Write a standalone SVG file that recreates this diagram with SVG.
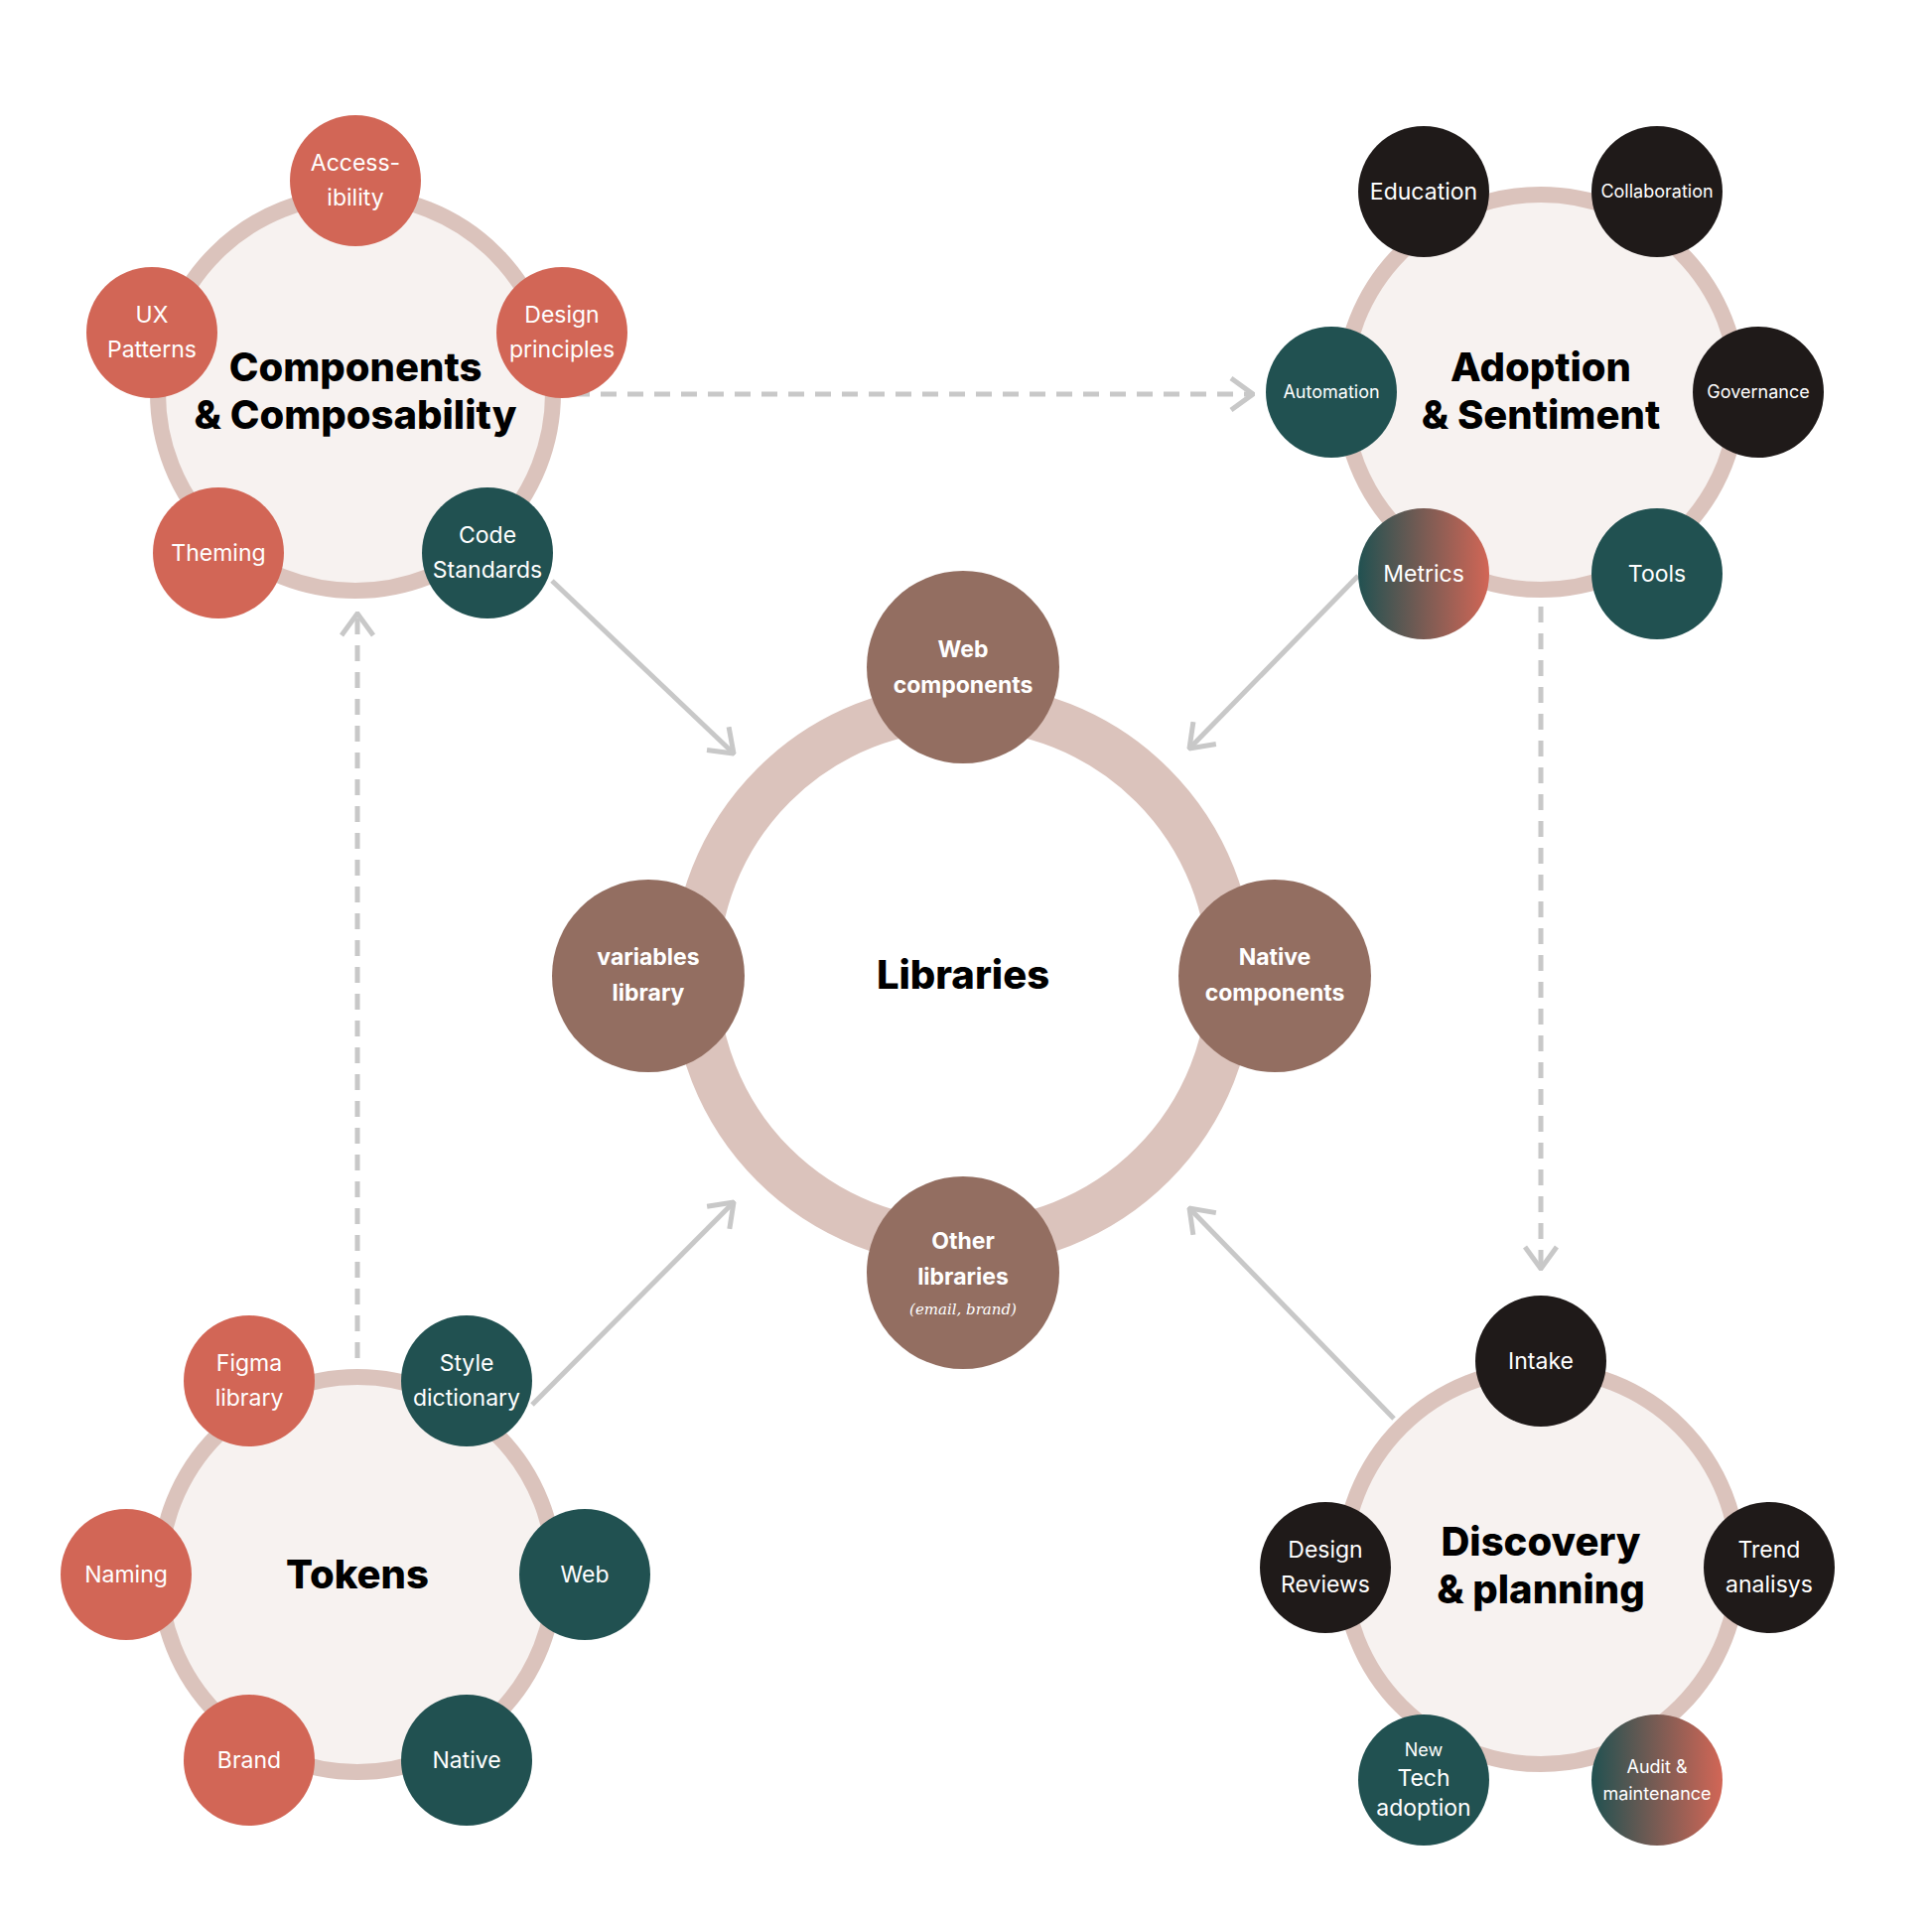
<svg xmlns="http://www.w3.org/2000/svg" width="1946" height="1932" viewBox="0 0 1946 1932">
<style>
.ring{fill:#f7f2f0;stroke:#dbc3bc;stroke-width:16}
.c{fill:#d26656}.t{fill:#215151}.d{fill:#1f1a19}.b{fill:#936e61}.g{fill:url(#gr)}
.s{font-family:Inter,"Liberation Sans",sans-serif;font-size:23px;fill:#fff;text-anchor:middle}
.xs{font-size:18px}
.lb{font-family:Inter,"Liberation Sans",sans-serif;font-size:23px;font-weight:700;fill:#fff;text-anchor:middle}
.h{font-family:Inter,"Liberation Sans",sans-serif;font-size:40px;font-weight:800;fill:#000;text-anchor:middle}
.dash{stroke:#c8c8c8;stroke-width:5;stroke-dasharray:16 11;fill:none}
.sol{stroke:#c8c8c8;stroke-width:5;fill:none}
</style>
<defs>
<linearGradient id="gr" x1="0" x2="1" y1="0" y2="0"><stop offset="0" stop-color="#215151"/><stop offset="1" stop-color="#d26656"/></linearGradient>
<marker id="ah" viewBox="0 0 20 20" refX="18" refY="10" markerWidth="20" markerHeight="20" markerUnits="userSpaceOnUse" orient="auto"><path d="M2 1 L18 10 L2 19" fill="none" stroke="#c8c8c8" stroke-width="4"/></marker>
<marker id="ah2" viewBox="0 0 36 36" refX="34" refY="18" markerWidth="36" markerHeight="36" markerUnits="userSpaceOnUse" orient="auto"><path d="M12 2 L34 18 L12 34" fill="none" stroke="#c8c8c8" stroke-width="5"/></marker>
</defs>
<rect width="1946" height="1932" fill="#fff"/>
<g id="connectors">
<path class="dash" d="M578 397 H1262" marker-end="url(#ah2)"/>
<path class="dash" d="M360 1368 V618" marker-end="url(#ah2)"/>
<path class="dash" d="M1552 611 V1278" marker-end="url(#ah2)"/>
<path class="sol" d="M556 585 L739 759" marker-end="url(#ah2)"/>
<path class="sol" d="M1368 580 L1198 754" marker-end="url(#ah2)"/>
<path class="sol" d="M536 1415 L739 1211" marker-end="url(#ah2)"/>
<path class="sol" d="M1404 1429 L1198 1217" marker-end="url(#ah2)"/>
</g>
<g id="libraries">
<circle cx="970" cy="982" r="270" fill="none" stroke="#dbc3bc" stroke-width="47"/>
<text class="h" x="970" y="996" font-size="41">Libraries</text>
<g id="web-components"><circle class="b" cx="970" cy="672" r="97"/><text class="lb" x="970" y="662">Web</text><text class="lb" x="970" y="698">components</text></g>
<g id="variables-library"><circle class="b" cx="653" cy="983" r="97"/><text class="lb" x="653" y="972">variables</text><text class="lb" x="653" y="1008">library</text></g>
<g id="native-components"><circle class="b" cx="1284" cy="983" r="97"/><text class="lb" x="1284" y="972">Native</text><text class="lb" x="1284" y="1008">components</text></g>
<g id="other-libraries"><circle class="b" cx="970" cy="1282" r="97"/><text class="lb" x="970" y="1258">Other</text><text class="lb" x="970" y="1294">libraries</text><text x="970" y="1324" text-anchor="middle" font-family="DejaVu Serif,serif" font-style="italic" font-size="15" fill="#fff">(email, brand)</text></g>
</g>
<g id="components">
<circle class="ring" cx="358" cy="396" r="199"/>
<text class="h" x="358" y="384">Components</text><text class="h" x="358" y="432">&amp; Composability</text>
<g id="accessibility"><circle class="c" cx="358" cy="182" r="66"/><text class="s" x="358" y="172">Access-</text><text class="s" x="358" y="207">ibility</text></g>
<g id="ux"><circle class="c" cx="153" cy="335" r="66"/><text class="s" x="153" y="325">UX</text><text class="s" x="153" y="360">Patterns</text></g>
<g id="design-principles"><circle class="c" cx="566" cy="335" r="66"/><text class="s" x="566" y="325">Design</text><text class="s" x="566" y="360">principles</text></g>
<g id="theming"><circle class="c" cx="220" cy="557" r="66"/><text class="s" x="220" y="565">Theming</text></g>
<g id="code-standards"><circle class="t" cx="491" cy="557" r="66"/><text class="s" x="491" y="547">Code</text><text class="s" x="491" y="582">Standards</text></g>
</g>
<g id="adoption">
<circle class="ring" cx="1552" cy="395" r="199"/>
<text class="h" x="1552" y="384">Adoption</text><text class="h" x="1552" y="432">&amp; Sentiment</text>
<g id="education"><circle class="d" cx="1434" cy="193" r="66"/><text class="s" x="1434" y="201">Education</text></g>
<g id="collaboration"><circle class="d" cx="1669" cy="193" r="66"/><text class="s xs" x="1669" y="199">Collaboration</text></g>
<g id="automation"><circle class="t" cx="1341" cy="395" r="66"/><text class="s xs" x="1341" y="401">Automation</text></g>
<g id="governance"><circle class="d" cx="1771" cy="395" r="66"/><text class="s xs" x="1771" y="401">Governance</text></g>
<g id="metrics"><circle class="g" cx="1434" cy="578" r="66"/><text class="s" x="1434" y="586">Metrics</text></g>
<g id="tools"><circle class="t" cx="1669" cy="578" r="66"/><text class="s" x="1669" y="586">Tools</text></g>
</g>
<g id="tokens">
<circle class="ring" cx="360" cy="1586" r="199"/>
<text class="h" x="360" y="1600">Tokens</text>
<g id="figma"><circle class="c" cx="251" cy="1391" r="66"/><text class="s" x="251" y="1381">Figma</text><text class="s" x="251" y="1416">library</text></g>
<g id="style-dictionary"><circle class="t" cx="470" cy="1391" r="66"/><text class="s" x="470" y="1381">Style</text><text class="s" x="470" y="1416">dictionary</text></g>
<g id="naming"><circle class="c" cx="127" cy="1586" r="66"/><text class="s" x="127" y="1594">Naming</text></g>
<g id="web"><circle class="t" cx="589" cy="1586" r="66"/><text class="s" x="589" y="1594">Web</text></g>
<g id="brand"><circle class="c" cx="251" cy="1773" r="66"/><text class="s" x="251" y="1781">Brand</text></g>
<g id="native"><circle class="t" cx="470" cy="1773" r="66"/><text class="s" x="470" y="1781">Native</text></g>
</g>
<g id="discovery">
<circle class="ring" cx="1552" cy="1578" r="199"/>
<text class="h" x="1552" y="1567">Discovery</text><text class="h" x="1552" y="1615">&amp; planning</text>
<g id="intake"><circle class="d" cx="1552" cy="1371" r="66"/><text class="s" x="1552" y="1379">Intake</text></g>
<g id="design-reviews"><circle class="d" cx="1335" cy="1579" r="66"/><text class="s" x="1335" y="1569">Design</text><text class="s" x="1335" y="1604">Reviews</text></g>
<g id="trend"><circle class="d" cx="1782" cy="1579" r="66"/><text class="s" x="1782" y="1569">Trend</text><text class="s" x="1782" y="1604">analisys</text></g>
<g id="new-tech"><circle class="t" cx="1434" cy="1793" r="66"/><text class="s xs" x="1434" y="1769" font-size="20">New</text><text class="s" x="1434" y="1799" font-size="20">Tech</text><text class="s" x="1434" y="1829" font-size="20">adoption</text></g>
<g id="audit"><circle class="g" cx="1669" cy="1793" r="66"/><text class="s xs" x="1669" y="1786">Audit &amp;</text><text class="s xs" x="1669" y="1813">maintenance</text></g>
</g>
</svg>
